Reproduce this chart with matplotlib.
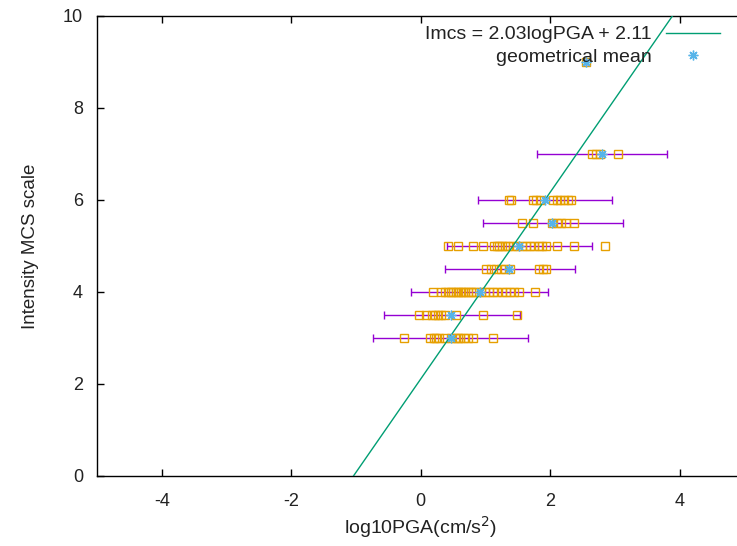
import matplotlib
matplotlib.use('Agg')
import matplotlib.pyplot as plt
import numpy as np

plt.rcParams['font.family'] = ['Liberation Sans', 'DejaVu Sans']
plt.rcParams['axes.unicode_minus'] = False

# intensity levels (MCS scale)
levels = [3.0, 3.5, 4.0, 4.5, 5.0, 5.5, 6.0, 7.0, 9.0]

# log10 PGA of each record, one list per intensity level
pga_points = {
    3.0: [-0.26, 0.15, 0.20, 0.24, 0.28, 0.38, 0.46, 0.53, 0.57, 0.60, 0.67, 0.73, 0.80, 1.12],
    3.5: [-0.02, 0.08, 0.17, 0.22, 0.27, 0.32, 0.37, 0.55, 0.96, 1.48],
    4.0: [0.19, 0.32, 0.38, 0.42, 0.46, 0.50, 0.54, 0.58, 0.62, 0.65, 0.69, 0.73, 0.77,
          0.81, 0.85, 0.93, 0.99, 1.05, 1.12, 1.18, 1.25, 1.31, 1.38, 1.44, 1.51, 1.76],
    4.5: [1.01, 1.08, 1.16, 1.24, 1.30, 1.38, 1.83, 1.89, 1.94],
    5.0: [0.42, 0.58, 0.81, 0.96, 1.13, 1.18, 1.21, 1.26, 1.30, 1.34, 1.42, 1.49, 1.56,
          1.62, 1.69, 1.75, 1.82, 1.88, 1.94, 2.10, 2.36, 2.85],
    5.5: [1.56, 1.73, 2.03, 2.10, 2.17, 2.24, 2.36],
    6.0: [1.37, 1.40, 1.73, 1.78, 1.84, 2.04, 2.10, 2.15, 2.21, 2.27, 2.32],
    7.0: [2.64, 2.70, 2.77, 3.04],
    9.0: [2.55],
}

# geometrical mean and error bar ends per level
geo_mean = [0.47, 0.47, 0.91, 1.37, 1.51, 2.03, 1.92, 2.80, 2.55]
err_low = [-0.73, -0.57, -0.15, 0.37, 0.41, 0.96, 0.88, 1.79, 2.55]
err_high = [1.65, 1.53, 1.97, 2.38, 2.65, 3.12, 2.95, 3.81, 2.55]

# fitted relation
slope = 2.03
intercept = 2.11

fig = plt.figure(figsize=(7.37, 5.46), dpi=100)
ax = fig.add_axes([97 / 737, 1 - 476 / 546, 647.5 / 737, 460 / 546])

mean = np.array(geo_mean)
xerr = [mean - np.array(err_low), np.array(err_high) - mean]
ax.errorbar(mean, levels, xerr=xerr, fmt='none', ecolor='#9400d3', elinewidth=1,
            capsize=3, capthick=1, zorder=2)

for lev in levels:
    xs = pga_points[lev]
    ax.plot(xs, [lev] * len(xs), linestyle='none', marker='s', markersize=6,
            markerfacecolor='none', markeredgecolor='#e69f00', markeredgewidth=1,
            zorder=3)

xfit = np.array([-5, 5])
ax.plot(xfit, slope * xfit + intercept, color='#009e73', linewidth=1, zorder=4,
        label='Imcs = 2.03logPGA + 2.11')
ax.plot(mean, levels, linestyle='none', marker=(8, 2, 0), markersize=7,
        color='#56b4e9', markeredgewidth=1, zorder=5, label='geometrical mean')

ax.set_xlim(-5, 5)
ax.set_ylim(0, 10)
ax.set_xticks([-4, -2, 0, 2, 4])
ax.set_yticks([0, 2, 4, 6, 8, 10])
ax.tick_params(direction='in', length=5, width=1, top=True, right=True,
               labelsize=13, labelcolor='#222222')
ax.tick_params(axis='x', pad=12)
ax.tick_params(axis='y', pad=10)
for s in ax.spines.values():
    s.set_linewidth(1)

ax.set_xlabel('log10PGA(cm/s$^2$)', fontsize=14, labelpad=3, color='#222222')
ax.set_ylabel('Intensity MCS scale', fontsize=13.5, labelpad=17, color='#222222')

ax.legend(loc='upper right', bbox_to_anchor=(730 / 737, 1 - 16 / 546),
          bbox_transform=fig.transFigure, frameon=False, markerfirst=False,
          fontsize=14, handlelength=2.8, handletextpad=0.75, borderpad=0,
          labelspacing=0.25, labelcolor='#222222')

fig.savefig('out.png', dpi=100)
